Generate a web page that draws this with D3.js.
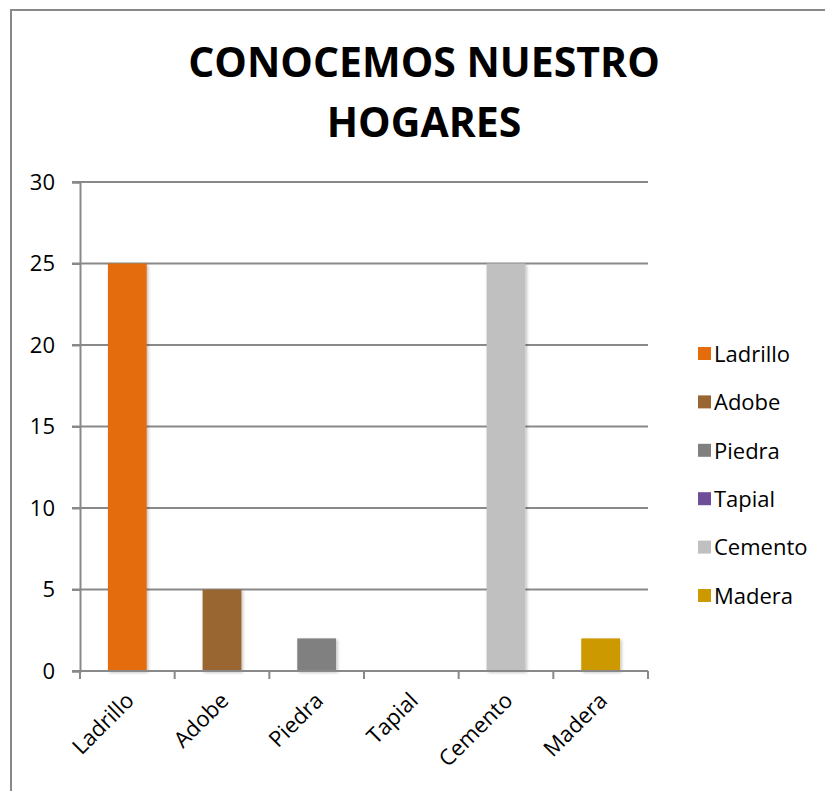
<!DOCTYPE html>
<html>
<head>
<meta charset="utf-8">
<script src="https://cdn.jsdelivr.net/npm/d3@7"></script>
<style>
  body { margin: 0; background: #fff; }
  text { font-family: "Open Sans", sans-serif; fill: #000; }
</style>
</head>
<body>
<div id="chart"></div>
<script>
// data
var categories = ["Ladrillo", "Adobe", "Piedra", "Tapial", "Cemento", "Madera"];
var values = [25, 5, 2, 0, 25, 2];
var colors = ["#E46C0A", "#996633", "#808080", "#6F4E98", "#C0C0C0", "#CC9900"];
var yTicks = [0, 5, 10, 15, 20, 25, 30];
var titleLines = ["CONOCEMOS NUESTRO", "HOGARES"];

var width = 825, height = 791;
var margin = {left: 80, right: 177, top: 182, bottom: 120};

var svg = d3.select("#chart").append("svg")
  .attr("width", width)
  .attr("height", height);

var defs = svg.append("defs");
var shadow = defs.append("filter").attr("id", "shadow")
  .attr("x", "-20%").attr("y", "-20%").attr("width", "140%").attr("height", "140%");
shadow.append("feDropShadow")
  .attr("dx", 1.5).attr("dy", 1.5).attr("stdDeviation", 1.5)
  .attr("flood-color", "#000").attr("flood-opacity", 0.25);

// chart border
svg.append("rect")
  .attr("x", 11).attr("y", 10)
  .attr("width", 830).attr("height", 800)
  .attr("fill", "none")
  .attr("stroke", "#898989")
  .attr("stroke-width", 2);

// title
svg.append("text")
  .attr("x", 424)
  .attr("text-anchor", "middle")
  .style("font-weight", "bold")
  .style("font-size", "41px")
  .selectAll("tspan")
  .data(titleLines)
  .enter().append("tspan")
  .attr("x", 424)
  .attr("y", function(d, i) { return 77 + i * 60; })
  .text(function(d) { return d; });

var x = d3.scaleBand()
  .domain(categories)
  .range([margin.left, width - margin.right])
  .paddingInner(0.59)
  .paddingOuter(0.295);

var xOuter = d3.scaleBand()
  .domain(categories)
  .range([margin.left, width - margin.right]);

var y = d3.scaleLinear()
  .domain([0, 30])
  .range([height - margin.bottom, margin.top]);

// gridlines
svg.append("g")
  .selectAll("line")
  .data(yTicks)
  .enter().append("line")
  .attr("x1", margin.left - 8)
  .attr("x2", width - margin.right)
  .attr("y1", function(d) { return y(d); })
  .attr("y2", function(d) { return y(d); })
  .attr("stroke", "#898989")
  .attr("stroke-width", 2);

// y axis
var yAxis = svg.append("g")
  .attr("transform", "translate(" + margin.left + ",0)")
  .call(d3.axisLeft(y).tickValues(yTicks).tickSize(8).tickPadding(17));
yAxis.select(".domain").attr("stroke", "#898989").attr("stroke-width", 2);
yAxis.selectAll(".tick line").attr("stroke", "#898989").attr("stroke-width", 2);
yAxis.selectAll("text").style("font-size", "22px").style("font-family", "Open Sans");

// bars
svg.append("g")
  .selectAll("rect")
  .data(values)
  .enter().append("rect")
  .attr("x", function(d, i) { return x(categories[i]); })
  .attr("y", function(d) { return y(d); })
  .attr("width", x.bandwidth())
  .attr("height", function(d) { return y(0) - y(d); })
  .attr("fill", function(d, i) { return colors[i]; })
  .attr("filter", "url(#shadow)");

// x axis
var xAxis = svg.append("g")
  .attr("transform", "translate(0," + y(0) + ")");
xAxis.append("line")
  .attr("x1", margin.left).attr("x2", width - margin.right)
  .attr("stroke", "#898989").attr("stroke-width", 2);
var bounds = categories.map(function(c) { return xOuter(c); }).concat([width - margin.right]);
xAxis.selectAll(".xt")
  .data(bounds)
  .enter().append("line")
  .attr("class", "xt")
  .attr("x1", function(d) { return d; }).attr("x2", function(d) { return d; })
  .attr("y1", 0).attr("y2", 8)
  .attr("stroke", "#898989").attr("stroke-width", 2);
xAxis.selectAll(".xl")
  .data(categories)
  .enter().append("text")
  .attr("class", "xl")
  .attr("text-anchor", "end")
  .style("font-size", "22px")
  .attr("transform", function(d) {
    return "translate(" + (xOuter(d) + xOuter.bandwidth() / 2 + 8) + ",31) rotate(-45)";
  })
  .text(function(d) { return d; });

// legend
var legend = svg.append("g")
  .selectAll("g")
  .data(categories)
  .enter().append("g")
  .attr("transform", function(d, i) { return "translate(698," + (354 + i * 48.4) + ")"; });
legend.append("rect")
  .attr("x", 0).attr("y", -7)
  .attr("width", 13).attr("height", 13)
  .attr("fill", function(d, i) { return colors[i]; });
legend.append("text")
  .attr("x", 16)
  .attr("dy", "0.35em")
  .style("font-size", "22px")
  .text(function(d) { return d; });
</script>
</body>
</html>
